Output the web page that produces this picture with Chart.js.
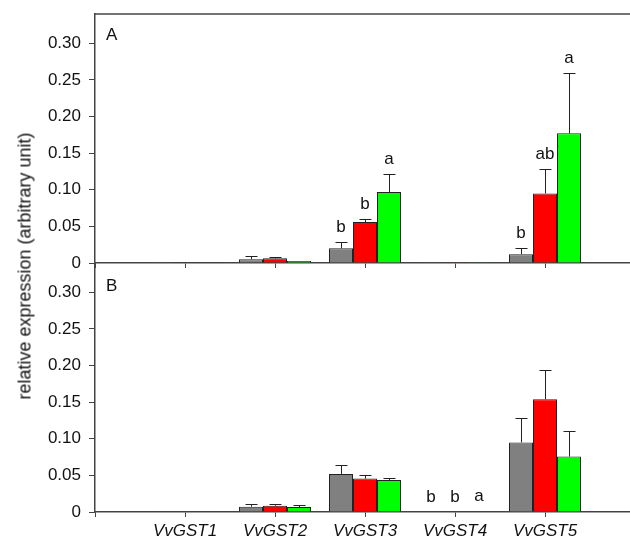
<!DOCTYPE html>
<html lang="en">
<head>
  <meta charset="UTF-8">
  <title>Relative expression of VvGST genes</title>
  <script src="https://cdn.jsdelivr.net/npm/chart.js"></script>
  <style>
    html, body { margin: 0; padding: 0; background: #fff; overflow: hidden; }
    .wrap { position: relative; width: 630px; height: 545px; overflow: hidden; }
    canvas { position: absolute; left: 0; }
    #chartA { top: 0; }
    #chartB { top: 256px; }
    .ytitle {
      position: absolute; left: 25px; top: 266px;
      transform: translate(-50%, -50%) rotate(-90deg);
      font: 18px Arial, "Liberation Sans", sans-serif;
      white-space: nowrap; color: #111;
    }
  </style>
</head>
<body>
  <div class="wrap">
    <canvas id="chartA" width="635" height="285"></canvas>
    <canvas id="chartB" width="635" height="289"></canvas>
    <div class="ytitle">relative expression (arbitrary unit)</div>
  </div>

  <script>
    // gene names on the x axis
    const categories = ['VvGST1', 'VvGST2', 'VvGST3', 'VvGST4', 'VvGST5'];
    const yTicks = [0, 0.05, 0.10, 0.15, 0.20, 0.25, 0.30];

    // panel A
    const grayA = [0.0003, 0.005, 0.020, 0.0003, 0.012];
    const grayErrA = [0, 0.004, 0.009, 0, 0.009];
    const redA = [0.001, 0.0065, 0.056, 0.0003, 0.095];
    const redErrA = [0, 0.0018, 0.004, 0, 0.033];
    const greenA = [0.001, 0.0027, 0.097, 0.0003, 0.177];
    const greenErrA = [0, 0, 0.025, 0, 0.082];
    const grayLettersA = ['', '', 'b', '', 'b'];
    const redLettersA = ['', '', 'b', '', 'ab'];
    const greenLettersA = ['', '', 'a', '', 'a'];

    // panel B
    const grayB = [0.001, 0.0073, 0.052, 0, 0.095];
    const grayErrB = [0, 0.003, 0.012, 0, 0.034];
    const redB = [0.001, 0.0086, 0.0456, 0, 0.154];
    const redErrB = [0, 0.0018, 0.0044, 0, 0.0405];
    const greenB = [0.001, 0.0068, 0.0438, 0.001, 0.0757];
    const greenErrB = [0, 0.0028, 0.0032, 0, 0.0353];
    const grayLettersB = ['', '', '', 'b', ''];
    const redLettersB = ['', '', '', 'b', ''];
    const greenLettersB = ['', '', '', 'a', ''];

    const colors = ['#808080', '#ff0000', '#00ff00'];
    const FONT = 'Arial, "Liberation Sans", sans-serif';

    // empty slot on each side so the genes sit one slot in from the axis
    const pad = arr => [null, ...arr, null];
    const labels = ['', ...categories, ''];

    function makeSet(values, errs, letters, color) {
      return {
        data: pad(values),
        errors: pad(errs),
        letters: pad(letters),
        backgroundColor: color,
        borderColor: '#222',
        borderWidth: 1,
        barPercentage: 1,
        categoryPercentage: 0.8
      };
    }

    // error bars, letters, panel label, top frame
    const extras = {
      id: 'extras',
      afterDatasetsDraw(chart, args, opts) {
        const ctx = chart.ctx;
        const y = chart.scales.y;
        ctx.save();
        ctx.strokeStyle = '#222';
        ctx.lineWidth = 1;
        ctx.fillStyle = '#111';
        ctx.font = '17px ' + FONT;
        ctx.textAlign = 'center';
        ctx.textBaseline = 'alphabetic';
        chart.data.datasets.forEach((ds, di) => {
          chart.getDatasetMeta(di).data.forEach((bar, i) => {
            const v = ds.data[i];
            if (v == null) return;
            const err = ds.errors[i] || 0;
            const top = y.getPixelForValue(v + err);
            if (err > 0) {
              const x = Math.round(bar.x) + 0.5;
              ctx.beginPath();
              ctx.moveTo(x, bar.y);
              ctx.lineTo(x, Math.round(top) + 0.5);
              ctx.moveTo(x - 6, Math.round(top) + 0.5);
              ctx.lineTo(x + 6, Math.round(top) + 0.5);
              ctx.stroke();
            }
            if (ds.letters[i]) ctx.fillText(ds.letters[i], bar.x, top - 10);
          });
        });
        ctx.textAlign = 'left';
        ctx.fillText(opts.label, 106, opts.labelY);
        if (opts.topLine) {
          const a = chart.chartArea;
          ctx.strokeStyle = '#444';
          ctx.lineWidth = 1.5;
          ctx.beginPath();
          ctx.moveTo(a.left, a.top);
          ctx.lineTo(a.right, a.top);
          ctx.stroke();
        }
        ctx.restore();
      }
    };

    function makeChart(id, sets, panel) {
      return new Chart(document.getElementById(id), {
        type: 'bar',
        data: { labels: labels, datasets: sets },
        plugins: [extras],
        options: {
          responsive: false,
          animation: false,
          layout: { padding: { top: panel.padTop, left: 0, right: 0, bottom: 0 } },
          plugins: {
            legend: { display: false },
            tooltip: { enabled: false },
            extras: { label: panel.label, labelY: panel.labelY, topLine: panel.topLine }
          },
          scales: {
            x: {
              type: 'category',
              offset: false,
              grid: { offset: false, drawOnChartArea: false, drawTicks: true, tickLength: 5, color: '#444' },
              border: { display: true, color: '#444', width: 1.5 },
              ticks: {
                display: panel.showX,
                autoSkip: false,
                maxRotation: 0,
                padding: 4,
                color: '#111',
                font: { family: FONT, size: 17, style: 'italic' }
              },
              afterFit: s => {
                s.height = panel.xHeight;
                s.paddingLeft = 0; s.paddingRight = 0;
              }
            },
            y: {
              min: 0,
              max: 0.34,
              stacked: false,
              grid: { drawOnChartArea: false, drawTicks: true, tickLength: 6, color: '#444' },
              border: { display: true, color: '#444', width: 1.5 },
              ticks: {
                padding: 8,
                color: '#111',
                font: { family: FONT, size: 17 },
                callback: v => (v === 0 ? '0' : v.toFixed(2))
              },
              afterBuildTicks: s => { s.ticks = yTicks.map(v => ({ value: v })); },
              afterFit: s => {
                s.width = 95;
                s.paddingTop = 0; s.paddingBottom = 0;
              }
            }
          }
        }
      });
    }

    makeChart('chartA', [
      makeSet(grayA, grayErrA, grayLettersA, colors[0]),
      makeSet(redA, redErrA, redLettersA, colors[1]),
      makeSet(greenA, greenErrA, greenLettersA, colors[2])
    ], { padTop: 14, xHeight: 22, showX: false, label: 'A', labelY: 40, topLine: true });

    makeChart('chartB', [
      makeSet(grayB, grayErrB, grayLettersB, colors[0]),
      makeSet(redB, redErrB, redLettersB, colors[1]),
      makeSet(greenB, greenErrB, greenLettersB, colors[2])
    ], { padTop: 7, xHeight: 33, showX: true, label: 'B', labelY: 35, topLine: false });
  </script>
</body>
</html>
